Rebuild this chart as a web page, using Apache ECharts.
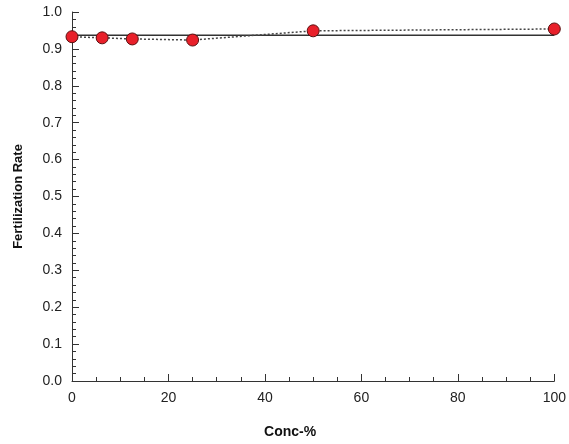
<!DOCTYPE html>
<html>
<head>
<meta charset="utf-8">
<script src="https://cdn.jsdelivr.net/npm/echarts@6/dist/echarts.min.js"></script>
<style>
  html, body { margin: 0; padding: 0; background: #fff; }
  #chart { width: 569px; height: 444px; }
</style>
</head>
<body>
<div id="chart"></div>
<script>
// Fertilization rate by concentration
const concentrations = [0, 6.25, 12.5, 25, 50, 100];
const fertilizationRate = [0.933, 0.930, 0.927, 0.924, 0.949, 0.954];
// Control-level reference line
const referenceX = [0, 100];
const referenceY = [0.937, 0.937];
const yTicks = [0.0, 0.1, 0.2, 0.3, 0.4, 0.5, 0.6, 0.7, 0.8, 0.9, 1.0];

const chart = echarts.init(document.getElementById('chart'));
const axisColor = '#333';
chart.setOption({
  animation: false,
  grid: { left: 72, right: 14, top: 12, bottom: 62 },
  xAxis: {
    type: 'value', min: 0, max: 100, interval: 20,
    name: 'Conc-%', nameLocation: 'middle', nameGap: 44,
    nameTextStyle: { fontFamily: 'Liberation Sans', fontWeight: 'bold', fontSize: 14, color: '#111', padding: [0, 46, 0, 0] },
    axisLine: { lineStyle: { color: axisColor, width: 1 } },
    axisTick: { inside: true, length: 7, lineStyle: { color: axisColor } },
    minorTick: { show: true, splitNumber: 4, length: 4, lineStyle: { color: axisColor } },
    axisLabel: { fontFamily: 'Liberation Sans', fontSize: 14, color: '#222', margin: 10 },
    splitLine: { show: false }
  },
  yAxis: {
    type: 'value', min: 0, max: 1, interval: 0.1,
    name: 'Fertilization Rate', nameLocation: 'middle', nameGap: 47,
    nameTextStyle: { fontFamily: 'Liberation Sans', fontWeight: 'bold', fontSize: 13, color: '#111' },
    axisLine: { show: true, lineStyle: { color: axisColor, width: 1 } },
    axisTick: { show: true, inside: true, length: 7, lineStyle: { color: axisColor } },
    minorTick: { show: true, splitNumber: 5, length: 4, lineStyle: { color: axisColor } },
    axisLabel: {
      fontFamily: 'Liberation Sans', fontSize: 14, color: '#222', margin: 10,
      formatter: v => {
        const t = yTicks.find(k => Math.abs(k - v) < 1e-9);
        return t === undefined ? '' : t.toFixed(1);
      }
    },
    splitLine: { show: false }
  },
  series: [
    {
      type: 'line',
      data: referenceX.map((x, i) => [x, referenceY[i]]),
      showSymbol: false,
      lineStyle: { color: '#333', width: 1.5, type: 'solid' },
      z: 2
    },
    {
      type: 'line',
      data: concentrations.map((x, i) => [x, fertilizationRate[i]]),
      symbol: 'circle', symbolSize: 12,
      itemStyle: { color: '#e8202a', borderColor: '#5a1010', borderWidth: 1 },
      lineStyle: { color: '#444', width: 1.5, type: [2, 2] },
      z: 3
    }
  ]
});
</script>
</body>
</html>
